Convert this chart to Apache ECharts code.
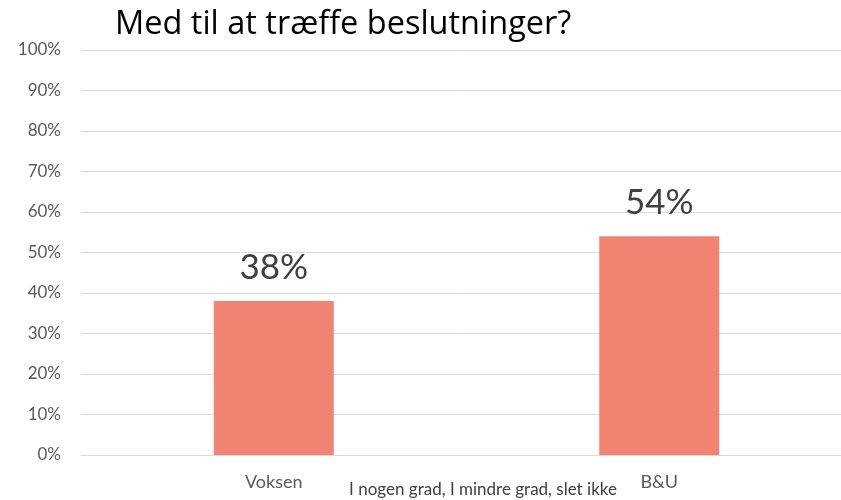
<!DOCTYPE html>
<html>
<head>
<meta charset="utf-8">
<script src="https://cdn.jsdelivr.net/npm/echarts@6/dist/echarts.min.js"></script>
<style>
  html, body { margin: 0; padding: 0; background: #fff; }
  #chart { width: 841px; height: 500px; }
</style>
</head>
<body>
<div id="chart"></div>
<script>
const categories = ['Voksen', 'B&U']
const values = [38, 54]
const yTicks = [0, 10, 20, 30, 40, 50, 60, 70, 80, 90, 100]

const chart = echarts.init(document.getElementById('chart'))

const option = {
  animation: false,
  title: [
    {
      text: 'Med til at træffe beslutninger?',
      left: 110,
      top: 3,
      textStyle: { fontFamily: 'Open Sans', fontSize: 32.5, fontWeight: 'normal', color: '#000' }
    },
    {
      text: 'I nogen grad, I mindre grad, slet ikke',
      left: 478,
      top: 476,
      textAlign: 'center',
      textStyle: { fontFamily: 'Lato', fontSize: 17, fontWeight: 'normal', color: '#404040' }
    }
  ],
  grid: { left: 81, width: 771, top: 50, bottom: 45, outerBoundsMode: 'none', containLabel: false },
  xAxis: {
    type: 'category',
    data: categories,
    axisLine: { lineStyle: { color: '#d9d9d9', width: 1 } },
    axisTick: { show: false },
    axisLabel: { color: '#595959', fontFamily: 'Lato', fontSize: 18, margin: 18 }
  },
  yAxis: {
    type: 'value',
    min: yTicks[0],
    max: yTicks[yTicks.length - 1],
    interval: 10,
    axisLine: { show: false },
    axisTick: { show: false },
    splitLine: { lineStyle: { color: '#d9d9d9', width: 1 } },
    axisLabel: { color: '#595959', fontFamily: 'Lato', fontSize: 17, margin: 20, formatter: '{value}%' }
  },
  series: [{
    type: 'bar',
    data: values,
    barWidth: 120,
    itemStyle: { color: '#f08372' },
    label: {
      show: true,
      position: 'top',
      distance: 16,
      formatter: '{c}%',
      color: '#404040',
      fontFamily: 'Lato',
      fontSize: 35
    }
  }]
}

chart.setOption(option)
</script>
</body>
</html>
